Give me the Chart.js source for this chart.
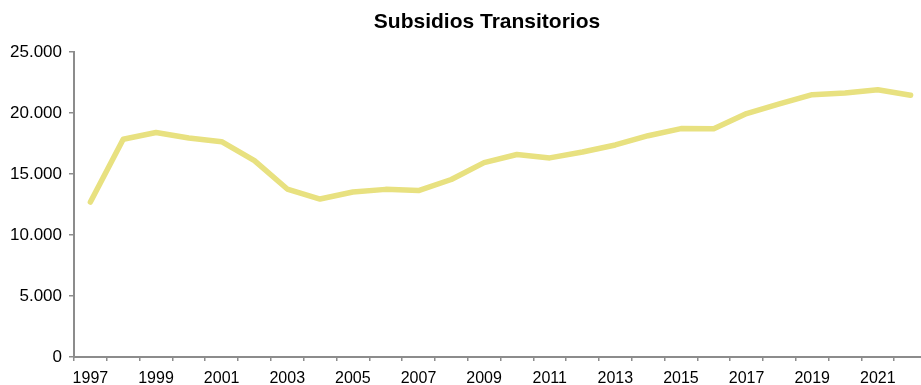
<!DOCTYPE html>
<html>
<head>
<meta charset="utf-8">
<script src="https://cdn.jsdelivr.net/npm/chart.js@4"></script>
<style>
  html, body { margin: 0; padding: 0; background: #fff; overflow: hidden; }
  #wrap { width: 921px; height: 385px; overflow: hidden; position: relative; }
  canvas { display: block; }
</style>
</head>
<body>
<div id="wrap"><canvas id="c" width="974" height="385"></canvas></div>
<script>
const years = ["1997","1998","1999","2000","2001","2002","2003","2004","2005","2006","2007","2008","2009","2010","2011","2012","2013","2014","2015","2016","2017","2018","2019","2020","2021","2022"];
const subsidios = [12700, 17850, 18400, 17950, 17650, 16100, 13770, 12950, 13520, 13740, 13640, 14550, 15930, 16600, 16320, 16800, 17380, 18140, 18720, 18700, 19950, 20750, 21500, 21640, 21900, 21450];
const yTicks = [0, 5000, 10000, 15000, 20000, 25000];
const chartTitle = "Subsidios Transitorios";

const fmt = v => v.toLocaleString('de-DE');

new Chart(document.getElementById('c'), {
  type: 'line',
  data: {
    labels: years,
    datasets: [{
      data: subsidios,
      borderColor: 'rgb(232,225,128)',
      borderWidth: 5.5,
      pointRadius: 0,
      tension: 0,
      borderCapStyle: 'round',
      borderJoinStyle: 'round',
      fill: false,
      yAxisID: 'y'
    }]
  },
  options: {
    responsive: false,
    devicePixelRatio: 1,
    animation: false,
    layout: { padding: 0 },
    plugins: {
      legend: { display: false },
      tooltip: { enabled: false },
      title: {
        display: true,
        text: chartTitle,
        color: '#000',
        font: { family: '"Liberation Sans", Arial, sans-serif', size: 21, weight: 'bold', lineHeight: 1.2 },
        padding: { top: 10, bottom: 16.8 }
      }
    },
    scales: {
      x: {
        type: 'category',
        offset: true,
        grid: { offset: true, drawOnChartArea: false, drawTicks: true, tickLength: 4, color: '#8c8c8c', lineWidth: 1.5 },
        border: { display: true, color: '#8c8c8c', width: 2 },
        ticks: {
          autoSkip: false,
          maxRotation: 0,
          padding: 8,
          color: '#000',
          font: { family: '"Liberation Sans", Arial, sans-serif', size: 16 },
          callback: function(val, idx) { return idx % 2 === 0 ? this.getLabelForValue(val) : ''; }
        },
        afterFit: s => { s.height = 28; }
      },
      y: {
        position: 'left',
        min: 0,
        max: 25000,
        afterBuildTicks: s => { s.ticks = yTicks.map(v => ({ value: v })); },
        grid: { drawOnChartArea: false, drawTicks: true, tickLength: 5, color: '#8c8c8c', lineWidth: 1.5 },
        border: { display: true, color: '#8c8c8c', width: 2 },
        ticks: {
          padding: 7,
          color: '#000',
          font: { family: '"Liberation Sans", Arial, sans-serif', size: 17 },
          callback: v => fmt(v)
        },
        afterFit: s => { s.width = 74; }
      },
      yRight: {
        position: 'right',
        min: 0,
        max: 1,
        grid: { display: false, drawTicks: false },
        border: { display: false },
        ticks: { display: false },
        afterFit: s => { s.width = 47; }
      }
    }
  }
});
</script>
</body>
</html>
